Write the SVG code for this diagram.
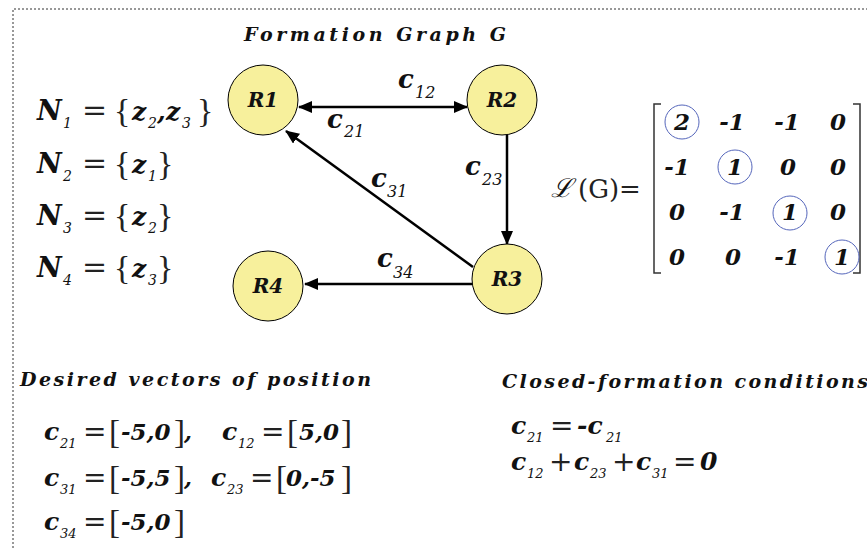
<svg xmlns="http://www.w3.org/2000/svg" width="867" height="548" viewBox="0 0 867 548">
<defs>
<style>
.bi{font-family:"DejaVu Serif",serif;font-style:italic;font-weight:bold;fill:#111}
.it{font-family:"DejaVu Serif",serif;font-style:italic;fill:#111}
.rm{font-family:"DejaVu Serif",serif;fill:#222}
.br{font-family:"Liberation Serif",serif;fill:#222}
.node{fill:#f7f09c;stroke:#000;stroke-width:1}
.edge{stroke:#000;stroke-width:2.5;fill:none}
.diag{fill:none;stroke:#5566bb;stroke-width:1}
.brk{fill:none;stroke:#333;stroke-width:1.5}
</style>
<marker id="ah" viewBox="0 0 14 12" refX="13" refY="6" markerWidth="14" markerHeight="12" markerUnits="userSpaceOnUse" orient="auto-start-reverse">
<path d="M0,0 L14,6 L0,12 z" fill="#000"/>
</marker>
</defs>
<rect width="867" height="548" fill="#fff"/>
<path d="M13,548 L13,9 L867,9" fill="none" stroke="#333" stroke-width="1" stroke-dasharray="2,2"/>

<text class="bi" x="244" y="41" font-size="19" textLength="262" lengthAdjust="spacing">Formation Graph G</text>

<g id="connectors">
<line class="edge" x1="299" y1="107" x2="467" y2="107" marker-start="url(#ah)" marker-end="url(#ah)"/>
<line class="edge" x1="507" y1="135" x2="507" y2="244" marker-end="url(#ah)"/>
<line class="edge" x1="473" y1="267" x2="286" y2="131" marker-end="url(#ah)"/>
<line class="edge" x1="472" y1="284" x2="305" y2="284" marker-end="url(#ah)"/>
<text class="bi" x="398" y="88" font-size="26">c</text><text class="it" x="415" y="98" font-size="16">12</text>
<text class="bi" x="327" y="128" font-size="26">c</text><text class="it" x="344" y="137" font-size="16">21</text>
<text class="bi" x="371" y="187" font-size="26">c</text><text class="it" x="387" y="197" font-size="16">31</text>
<text class="bi" x="465" y="175" font-size="26">c</text><text class="it" x="482" y="185" font-size="16">23</text>
<text class="bi" x="377" y="267" font-size="26">c</text><text class="it" x="393" y="278" font-size="16">34</text>
</g>

<g id="R1"><circle class="node" cx="263" cy="100" r="35"/><text class="bi" x="263" y="107" font-size="20" text-anchor="middle">R1</text></g>
<g id="R2"><circle class="node" cx="502" cy="100" r="35"/><text class="bi" x="502" y="107" font-size="20" text-anchor="middle">R2</text></g>
<g id="R3"><circle class="node" cx="507" cy="279" r="35"/><text class="bi" x="507" y="286" font-size="20" text-anchor="middle">R3</text></g>
<g id="R4"><circle class="node" cx="268" cy="286" r="35"/><text class="bi" x="268" y="293" font-size="20" text-anchor="middle">R4</text></g>

<g id="neighbors">
<text class="bi" x="37" y="120" font-size="27">N</text><text class="it" x="63" y="128" font-size="14">1</text>
<text class="rm" x="82" y="120" font-size="30">=</text>
<text class="br" x="114" y="122" font-size="34">{</text>
<text class="bi" x="132" y="120" font-size="25">z</text><text class="it" x="148" y="128" font-size="14">2</text><text class="bi" x="157" y="120" font-size="25">,</text>
<text class="bi" x="166" y="120" font-size="25">z</text><text class="it" x="182" y="128" font-size="14">3</text>
<text class="br" x="197" y="122" font-size="34">}</text>

<text class="bi" x="37" y="173" font-size="27">N</text><text class="it" x="63" y="181" font-size="14">2</text>
<text class="rm" x="82" y="173" font-size="30">=</text>
<text class="br" x="114" y="175" font-size="34">{</text>
<text class="bi" x="132" y="173" font-size="25">z</text><text class="it" x="148" y="181" font-size="14">1</text>
<text class="br" x="157" y="175" font-size="34">}</text>

<text class="bi" x="37" y="225" font-size="27">N</text><text class="it" x="63" y="233" font-size="14">3</text>
<text class="rm" x="82" y="225" font-size="30">=</text>
<text class="br" x="114" y="227" font-size="34">{</text>
<text class="bi" x="132" y="225" font-size="25">z</text><text class="it" x="148" y="233" font-size="14">2</text>
<text class="br" x="157" y="227" font-size="34">}</text>

<text class="bi" x="37" y="277" font-size="27">N</text><text class="it" x="63" y="285" font-size="14">4</text>
<text class="rm" x="82" y="277" font-size="30">=</text>
<text class="br" x="114" y="279" font-size="34">{</text>
<text class="bi" x="132" y="277" font-size="25">z</text><text class="it" x="148" y="285" font-size="14">3</text>
<text class="br" x="157" y="279" font-size="34">}</text>
</g>

<g id="laplacian">
<text class="it" x="551" y="197" font-size="26">ℒ</text>
<text class="rm" x="578" y="198" font-size="26">(G)=</text>
<path class="brk" d="M661,104 L654,104 L654,273 L661,273"/>
<path class="brk" d="M853,104 L860,104 L860,273 L853,273"/>
<circle class="diag" cx="682" cy="122" r="17"/>
<circle class="diag" cx="735" cy="167" r="17"/>
<circle class="diag" cx="790" cy="213" r="17"/>
<circle class="diag" cx="842" cy="257" r="17"/>
<g class="bi" font-size="23" text-anchor="middle">
<text x="682" y="130">2</text><text x="732" y="130">-1</text><text x="787" y="130">-1</text><text x="838" y="130">0</text>
<text x="677" y="175">-1</text><text x="735" y="175">1</text><text x="788" y="175">0</text><text x="838" y="175">0</text>
<text x="677" y="220">0</text><text x="732" y="220">-1</text><text x="790" y="220">1</text><text x="838" y="220">0</text>
<text x="677" y="265">0</text><text x="733" y="265">0</text><text x="787" y="265">-1</text><text x="842" y="265">1</text>
</g>
</g>

<g id="desired">
<text class="bi" x="20" y="386" font-size="19" textLength="351" lengthAdjust="spacing">Desired vectors of position</text>
<text class="bi" x="44" y="440" font-size="25">c</text><text class="it" x="60" y="448" font-size="13">21</text>
<text class="rm" x="83" y="441" font-size="28">=</text>
<text class="br" x="109" y="443" font-size="33">[</text>
<text class="bi" x="121" y="440" font-size="23">-5,0</text>
<text class="br" x="174" y="443" font-size="33">]</text><text class="bi" x="184" y="440" font-size="23">,</text>
<text class="bi" x="222" y="440" font-size="25">c</text><text class="it" x="238" y="448" font-size="13">12</text>
<text class="rm" x="261" y="441" font-size="28">=</text>
<text class="br" x="287" y="443" font-size="33">[</text>
<text class="bi" x="299" y="440" font-size="23">5,0</text>
<text class="br" x="341" y="443" font-size="33">]</text>

<text class="bi" x="44" y="486" font-size="25">c</text><text class="it" x="60" y="494" font-size="13">31</text>
<text class="rm" x="83" y="487" font-size="28">=</text>
<text class="br" x="109" y="489" font-size="33">[</text>
<text class="bi" x="121" y="486" font-size="23">-5,5</text>
<text class="br" x="174" y="489" font-size="33">]</text><text class="bi" x="184" y="486" font-size="23">,</text>
<text class="bi" x="211" y="486" font-size="25">c</text><text class="it" x="227" y="494" font-size="13">23</text>
<text class="rm" x="250" y="487" font-size="28">=</text>
<text class="br" x="276" y="489" font-size="33">[</text>
<text class="bi" x="286" y="486" font-size="23">0,-5</text>
<text class="br" x="341" y="489" font-size="33">]</text>

<text class="bi" x="44" y="530" font-size="25">c</text><text class="it" x="60" y="538" font-size="13">34</text>
<text class="rm" x="83" y="531" font-size="28">=</text>
<text class="br" x="109" y="533" font-size="33">[</text>
<text class="bi" x="121" y="530" font-size="23">-5,0</text>
<text class="br" x="174" y="533" font-size="33">]</text>
</g>

<g id="closed">
<text class="bi" x="502" y="388" font-size="19" textLength="366" lengthAdjust="spacing">Closed-formation conditions</text>
<text class="bi" x="511" y="434" font-size="25">c</text><text class="it" x="527" y="442" font-size="13">21</text>
<text class="rm" x="550" y="435" font-size="28">=</text>
<text class="bi" x="577" y="434" font-size="25">-c</text><text class="it" x="606" y="442" font-size="13">21</text>

<text class="bi" x="511" y="470" font-size="25">c</text><text class="it" x="527" y="478" font-size="13">12</text>
<text class="rm" x="549" y="471" font-size="28">+</text>
<text class="bi" x="574" y="470" font-size="25">c</text><text class="it" x="590" y="478" font-size="13">23</text>
<text class="rm" x="612" y="471" font-size="28">+</text>
<text class="bi" x="636" y="470" font-size="25">c</text><text class="it" x="652" y="478" font-size="13">31</text>
<text class="rm" x="673" y="471" font-size="28">=</text>
<text class="bi" x="700" y="470" font-size="25">0</text>
</g>
</svg>
